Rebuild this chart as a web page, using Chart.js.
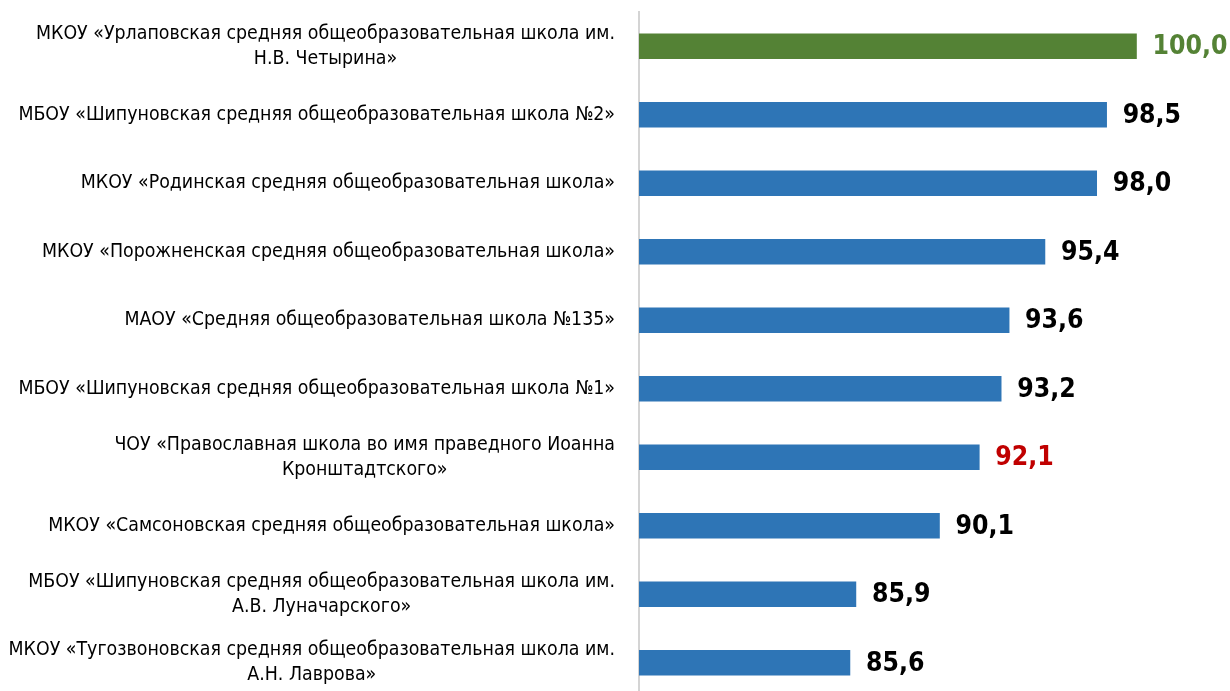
<!DOCTYPE html>
<html>
<head>
<meta charset="utf-8">
<script src="https://cdn.jsdelivr.net/npm/chart.js@4.4.1/dist/chart.umd.min.js"></script>
<style>
  html, body { margin: 0; padding: 0; background: #fff; overflow: hidden; }
  #wrap { width: 1230px; height: 697px; }
</style>
</head>
<body>
<div id="wrap"><canvas id="chart"></canvas></div>
<script>
const schools = [
    ['МКОУ «Урлаповская средняя общеобразовательная школа им.', 'Н.В. Четырина»'],
    ['МБОУ «Шипуновская средняя общеобразовательная школа №2»'],
    ['МКОУ «Родинская средняя общеобразовательная школа»'],
    ['МКОУ «Порожненская средняя общеобразовательная школа»'],
    ['МАОУ «Средняя общеобразовательная школа №135»'],
    ['МБОУ «Шипуновская средняя общеобразовательная школа №1»'],
    ['ЧОУ «Православная школа во имя праведного Иоанна', 'Кронштадтского»'],
    ['МКОУ «Самсоновская средняя общеобразовательная школа»'],
    ['МБОУ «Шипуновская средняя общеобразовательная школа им.', 'А.В. Луначарского»'],
    ['МКОУ «Тугозвоновская средняя общеобразовательная школа им.', 'А.Н. Лаврова»']
];
const scores = [100.0, 98.5, 98.0, 95.4, 93.6, 93.2, 92.1, 90.1, 85.9, 85.6];
const barColors = ['#548235', '#2E75B6', '#2E75B6', '#2E75B6', '#2E75B6', '#2E75B6', '#2E75B6', '#2E75B6', '#2E75B6', '#2E75B6'];
const valueColors = ['#548235', '#000', '#000', '#000', '#000', '#000', '#C00000', '#000', '#000', '#000'];

const family = '"Liberation Sans Narrow", "DejaVu Sans Condensed", "Liberation Sans", sans-serif';

// fit font sizes to the widths measured in the picture
const mctx = document.createElement('canvas').getContext('2d');
mctx.font = '100px ' + family;
const labelSize = 100 * 597 / mctx.measureText(schools[1][0]).width;
mctx.font = 'bold 100px ' + family;
const valueSize = 100 * 75 / mctx.measureText('100,0').width;

const fmt = v => v.toFixed(1).replace('.', ',');

const labelPlugin = {
    id: 'schoolLabels',
    afterDraw(chart) {
        const ctx = chart.ctx;
        const yScale = chart.scales.y;
        ctx.save();
        ctx.font = labelSize + 'px ' + family;
        ctx.fillStyle = '#000';
        ctx.textAlign = 'center';
        ctx.textBaseline = 'middle';
        const right = 615, lh = 25;
        schools.forEach((lines, i) => {
            const y = yScale.getPixelForValue(i);
            const w = Math.max(...lines.map(l => ctx.measureText(l).width));
            const cx = right - w / 2;
            lines.forEach((l, j) => {
                ctx.fillText(l, cx, y + (j - (lines.length - 1) / 2) * lh);
            });
        });
        ctx.restore();
    },
    afterDatasetsDraw(chart) {
        const ctx = chart.ctx;
        const meta = chart.getDatasetMeta(0);
        ctx.save();
        ctx.font = 'bold ' + valueSize + 'px ' + family;
        ctx.textAlign = 'left';
        ctx.textBaseline = 'middle';
        meta.data.forEach((bar, i) => {
            ctx.fillStyle = valueColors[i];
            ctx.fillText(fmt(scores[i]), bar.x + 16, bar.y + 1);
        });
        ctx.restore();
    }
};

new Chart(document.getElementById('chart'), {
    type: 'bar',
    data: {
        labels: schools,
        datasets: [{
            data: scores,
            backgroundColor: barColors,
            borderWidth: 0,
            barThickness: 25
        }]
    },
    options: {
        indexAxis: 'y',
        responsive: true,
        maintainAspectRatio: false,
        animation: false,
        layout: { padding: { top: 12, right: 0, bottom: 0, left: 0 } },
        plugins: {
            legend: { display: false },
            tooltip: { enabled: false }
        },
        scales: {
            x: {
                display: false,
                min: 75,
                max: 104.7
            },
            y: {
                ticks: { display: false },
                grid: { display: false },
                border: { display: true, color: '#d4d4d4', width: 2 },
                afterFit: s => { s.width = 639; }
            }
        }
    },
    plugins: [labelPlugin]
});
</script>
</body>
</html>
